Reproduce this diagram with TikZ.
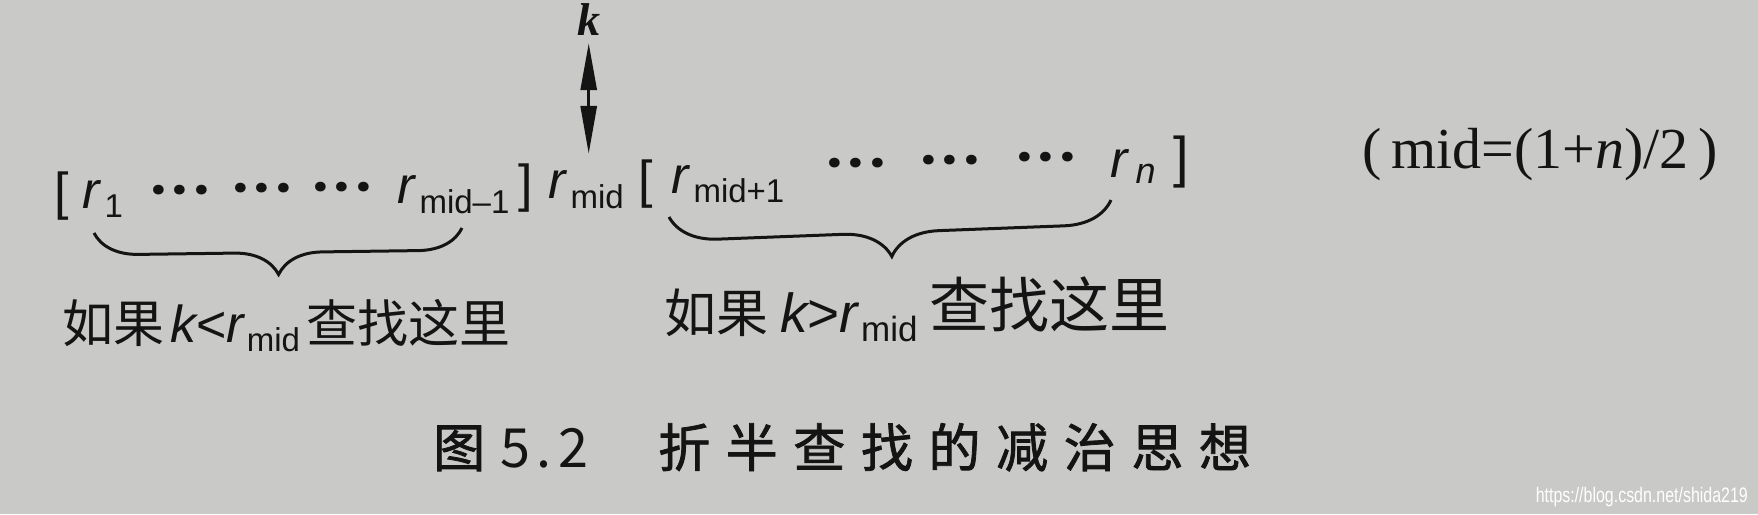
\documentclass[tikz,border=0pt]{standalone}
\usepackage{fontspec}
\setmainfont{Liberation Sans}
\newfontfamily\cjk{Noto Sans CJK SC}
\newfontfamily\serifk{Liberation Serif}
\newfontfamily\dotfont{Poppins}
\usetikzlibrary{arrows.meta,decorations.pathreplacing}
\definecolor{paper}{RGB}{201,201,200}
\definecolor{ink}{RGB}{20,20,20}
\newcommand{\fsz}[1]{\fontsize{#1}{#1}\selectfont}
\newcommand{\rr}[2]{{\itshape r}\kern5pt\raisebox{-#2}{\fsz{33}#1}}
\newcommand{\tdots}{.\kern7pt.\kern7pt.}
\tikzset{
  rowtext/.style={inner sep=0pt, anchor=base west, text=ink, font=\fsz{52}},
  ellip/.style={inner sep=0pt, anchor=center, text=ink, font=\dotfont\bfseries\fsz{52}},
  lbl/.style={inner sep=0pt, anchor=base west, text=ink, font=\fsz{51}},
  captext/.style={inner sep=0pt, anchor=base west, text=ink, font=\cjk\fsz{52}\addfontfeature{FakeBold=1.5}},
  bracestyle/.style={decorate, decoration={brace, mirror, amplitude=#1}, line width=3pt, draw=ink},
  dblarrow/.style={{Triangle[length=47pt,width=16pt]}-{Triangle[length=48pt,width=16pt]}, line width=3pt, draw=ink}
}
\begin{document}
\begin{tikzpicture}[x=1pt,y=-1pt]
\fill[paper] (0,0) rectangle (1758,514);
\useasboundingbox (0,0) rectangle (1758,514);

% top key
\node[inner sep=0pt, anchor=base west, text=ink, font=\serifk\bfseries\itshape\fsz{46}] (k) at (577,35) {k};

% row
\node[rowtext] (lb1) at (54,209) {[};
\node[rowtext] (r1) at (82,208) {\rr{1}{9pt}};
\node[ellip] (d1) at (180,190) {\tdots};
\node[ellip] (d2) at (262,188) {\tdots};
\node[ellip] (d3) at (342,187) {\tdots};
\node[rowtext] (rm1) at (397,203) {\rr{mid–1}{10pt}};
\node[rowtext] (rb1) at (518,201) {]};
\node[rowtext] (rmid) at (548,198) {\rr{mid}{10pt}};
\node[rowtext] (lb2) at (638,197) {[};
\node[rowtext] (rp1) at (671,193) {\rr{mid+1}{9pt}};
\node[ellip] (d4) at (856,163) {\tdots};
\node[ellip] (d5) at (950,160) {\tdots};
\node[ellip] (d6) at (1046,157) {\tdots};
\node[rowtext] (rn) at (1110,177) {{\itshape r}\kern8pt\raisebox{-6pt}{\fsz{36}\itshape n}};
\node[rowtext, font=\fsz{56}] (rb2) at (1173,176) {]};

\draw[dblarrow, shorten <=8pt, shorten >=16pt] (k.south) -- (k.south |- rmid.north);

% formula
\node[inner sep=0pt, anchor=base west, text=ink, font=\serifk\fsz{58}] (formula) at (1362,168) {(\,mid=(1+\textit{n})/2\,)};

% braces
\coordinate (b1l) at (94,233);
\coordinate (b1r) at (462,228);
\coordinate (b2l) at (669,217);
\coordinate (b2r) at (1111,200);
\draw[bracestyle=44] (b1l) -- (b1r);
\draw[bracestyle=48] (b2l) -- (b2r);

% labels
\node[lbl] (l1) at (62,342) {{\cjk 如果}\hspace{6pt}{\fsz{52}\itshape k}{\fsz{52}<}{\fsz{52}\itshape r}\kern3pt\raisebox{-9pt}{\fsz{33}mid}\hspace{6pt}{\cjk 查找这里}};
\node[lbl] (l2) at (664,332) {{\cjk\fsz{52}如果}\hspace{12pt}{\fsz{55}\itshape k}{\fsz{55}>}{\fsz{55}\itshape r}\kern3pt\raisebox{-9pt}{\fsz{35}mid}\hspace{12pt}\raisebox{5pt}{\cjk\fsz{60}查找这里}};

% caption
\node[captext] (c1) at (433,467) {图};
\node[captext, font=\cjk\fsz{54}\addfontfeature{LetterSpace=12}] (c2) at (500,467) {5.2};
\node[captext, font=\cjk\fsz{52}\addfontfeature{FakeBold=1.5,LetterSpace=30}] (c3) at (658,467) {折半查找的减治思想};

% watermark
\node[inner sep=0pt, anchor=base east, text=white, font=\fsz{21}] (wm) at (1748,502) {\scalebox{0.76}[1]{https://blog.csdn.net/shida219}};
\end{tikzpicture}
\end{document}
